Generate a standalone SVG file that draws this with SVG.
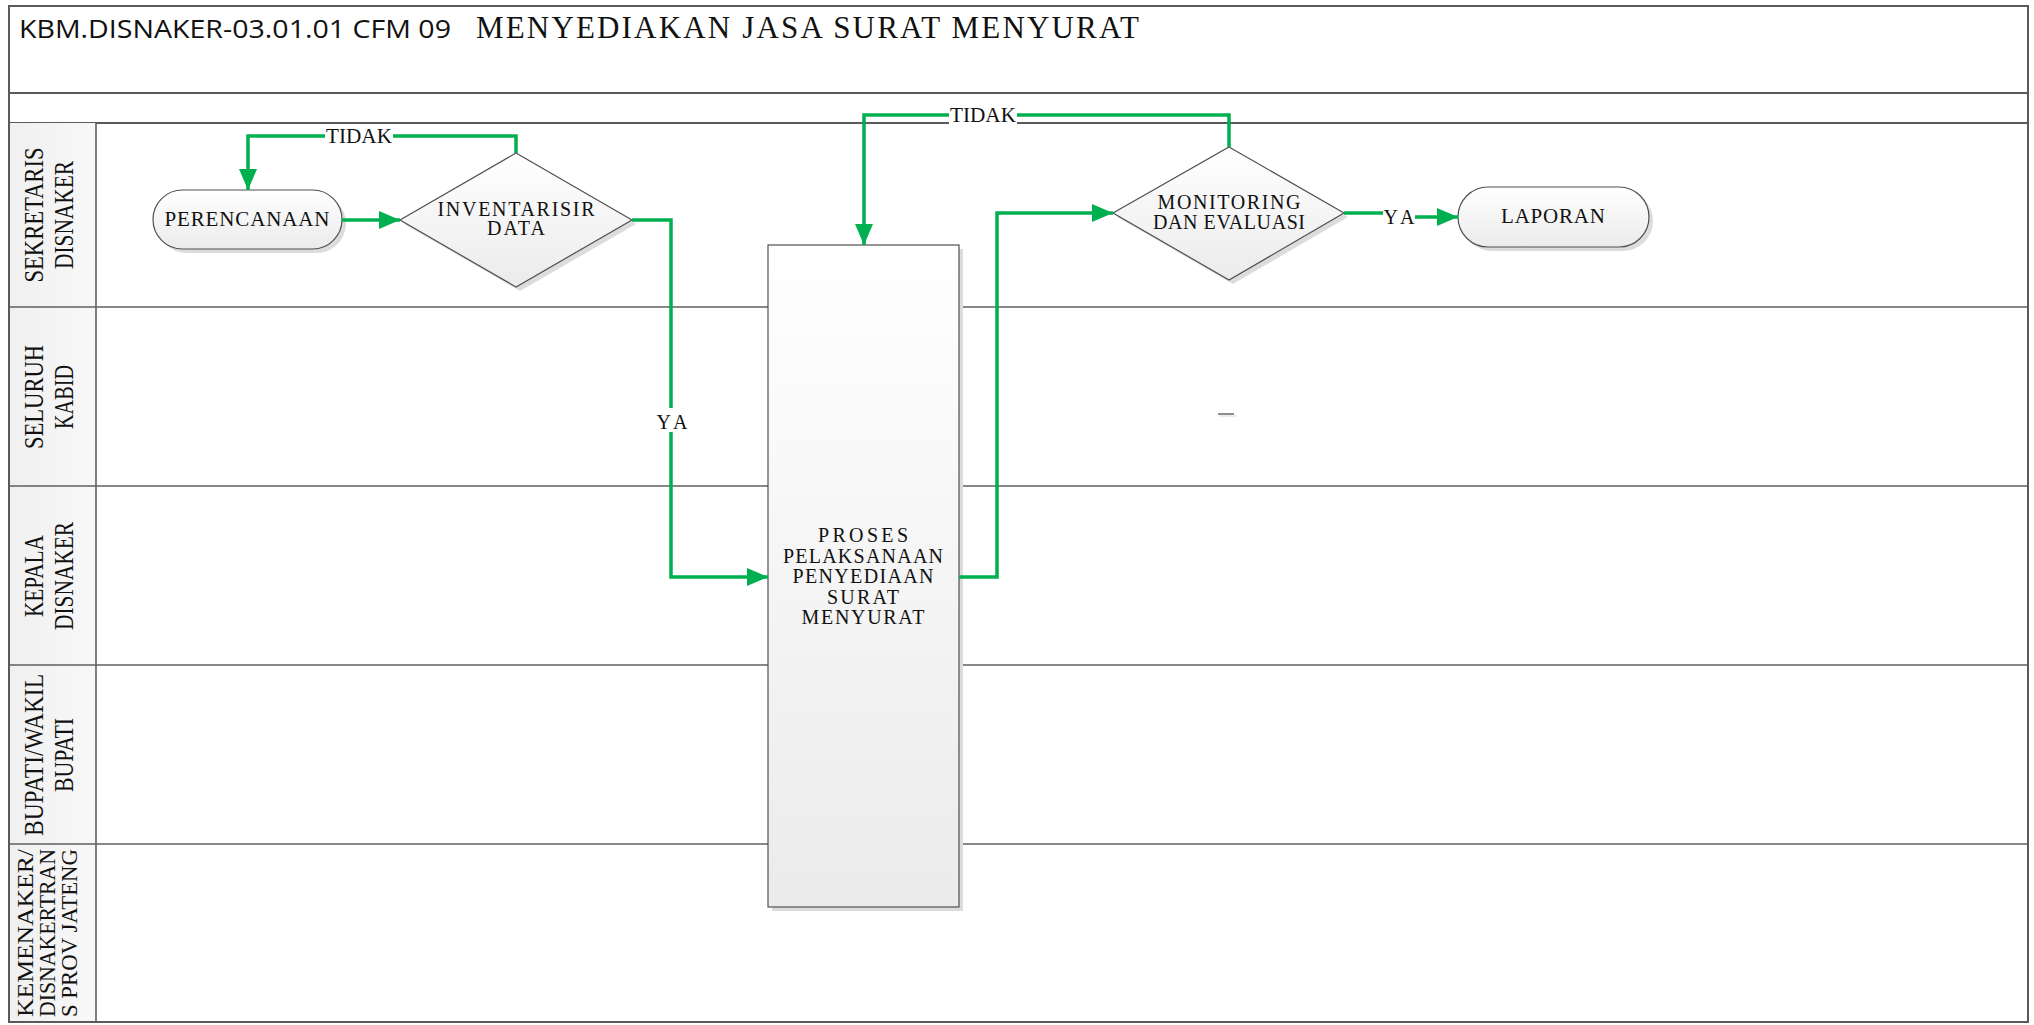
<svg xmlns="http://www.w3.org/2000/svg" width="2034" height="1025" viewBox="0 0 2034 1025">
<style>
.frame{fill:none;stroke:#5a5a5a;stroke-width:2}
.lane{stroke:#5f5f5f;stroke-width:1.6}
.node{fill:url(#ng);stroke:#505050;stroke-width:1.2}
.shadow{fill:#dcdcdc}
.conn{fill:none;stroke:#00b050;stroke-width:3.5;marker-end:url(#arr)}
.t{font-family:"Liberation Serif","DejaVu Serif",serif;fill:#111;text-anchor:middle}
.lbl{font-family:"Liberation Serif","DejaVu Serif",serif;fill:#111;text-anchor:middle;font-size:27px}
.lbl5{font-family:"Liberation Serif","DejaVu Serif",serif;fill:#111;text-anchor:middle;font-size:23px}
.bg{fill:#fff}
</style>
<defs>
<linearGradient id="hg" x1="0" y1="0" x2="0" y2="1"><stop offset="0" stop-color="#ffffff"/><stop offset="1" stop-color="#e8e8e8"/></linearGradient>
<linearGradient id="ng" x1="0" y1="0" x2="0" y2="1"><stop offset="0" stop-color="#ffffff"/><stop offset="1" stop-color="#ebebeb"/></linearGradient>
<linearGradient id="lg" x1="0" y1="0" x2="1" y2="0"><stop offset="0" stop-color="#f0f0f0"/><stop offset="1" stop-color="#f8f8f8"/></linearGradient>
<marker id="arr" markerUnits="userSpaceOnUse" markerWidth="22" markerHeight="18" refX="21" refY="9" orient="auto"><path d="M0,0 L21,9 L0,18 z" fill="#00b050"/></marker>
</defs>
<rect x="0" y="0" width="2034" height="1025" fill="#fff"/>
<g id="pool">
<rect x="9" y="6" width="2019" height="87" fill="url(#hg)" class="frame"/>
<rect x="9" y="93" width="2019" height="30" fill="url(#hg)" class="frame"/>
<rect x="9" y="123" width="87" height="899" fill="url(#lg)"/>
<line class="lane" x1="9" y1="307" x2="2028" y2="307"/>
<line class="lane" x1="9" y1="486" x2="2028" y2="486"/>
<line class="lane" x1="9" y1="665" x2="2028" y2="665"/>
<line class="lane" x1="9" y1="844" x2="2028" y2="844"/>
<line class="lane" x1="96" y1="123" x2="96" y2="1022"/>
<rect x="9" y="6" width="2019" height="1016" class="frame"/>
<text x="19" y="38" font-family="'Open Sans','Liberation Sans',sans-serif" font-size="25" fill="#111" textLength="432" lengthAdjust="spacingAndGlyphs">KBM.DISNAKER-03.01.01 CFM 09</text>
<text x="476" y="38" font-family="'Liberation Serif',serif" font-size="31" fill="#111" textLength="663">MENYEDIAKAN JASA SURAT MENYURAT</text>
</g>
<g id="lane-labels">
<g transform="translate(0,215)"><text class="lbl" transform="translate(43,0) rotate(-90)" textLength="135" lengthAdjust="spacingAndGlyphs">SEKRETARIS</text><text class="lbl" transform="translate(73,0) rotate(-90)" textLength="108" lengthAdjust="spacingAndGlyphs">DISNAKER</text></g>
<g transform="translate(0,397)"><text class="lbl" transform="translate(43,0) rotate(-90)" textLength="104" lengthAdjust="spacingAndGlyphs">SELURUH</text><text class="lbl" transform="translate(73,0) rotate(-90)" textLength="64" lengthAdjust="spacingAndGlyphs">KABID</text></g>
<g transform="translate(0,576)"><text class="lbl" transform="translate(43,0) rotate(-90)" textLength="82" lengthAdjust="spacingAndGlyphs">KEPALA</text><text class="lbl" transform="translate(73,0) rotate(-90)" textLength="108" lengthAdjust="spacingAndGlyphs">DISNAKER</text></g>
<g transform="translate(0,755)"><text class="lbl" transform="translate(43,0) rotate(-90)" textLength="162" lengthAdjust="spacingAndGlyphs">BUPATI/WAKIL</text><text class="lbl" transform="translate(73,0) rotate(-90)" textLength="74" lengthAdjust="spacingAndGlyphs">BUPATI</text></g>
<g transform="translate(0,933)"><text class="lbl5" transform="translate(33,0) rotate(-90)" textLength="168" lengthAdjust="spacingAndGlyphs">KEMENAKER/</text><text class="lbl5" transform="translate(55,0) rotate(-90)" textLength="168" lengthAdjust="spacingAndGlyphs">DISNAKERTRAN</text><text class="lbl5" transform="translate(77,0) rotate(-90)" textLength="168" lengthAdjust="spacingAndGlyphs">S PROV JATENG</text></g>
</g>
<g id="node-perencanaan">
<rect class="shadow" x="157" y="194" width="189" height="59" rx="29.5"/>
<rect class="node" x="153" y="190" width="189" height="59" rx="29.5"/>
<text class="t" x="247" y="226" font-size="21" textLength="165">PERENCANAAN</text>
</g>
<g id="node-inventarisir">
<polygon class="shadow" points="520,157 636,224 520,291 404,224"/>
<polygon class="node" points="516,153 632,220 516,287 400,220"/>
<text class="t" x="516" y="216" font-size="20" textLength="157">INVENTARISIR</text>
<text class="t" x="516" y="235" font-size="20" textLength="58">DATA</text>
</g>
<g id="node-proses">
<rect class="shadow" x="772" y="249" width="191" height="662"/>
<rect class="node" x="768" y="245" width="191" height="662"/>
<text class="t" x="863" y="542" font-size="20" textLength="90">PROSES</text>
<text class="t" x="863" y="563" font-size="20" textLength="160">PELAKSANAAN</text>
<text class="t" x="863" y="583" font-size="20" textLength="141">PENYEDIAAN</text>
<text class="t" x="863" y="604" font-size="20" textLength="72">SURAT</text>
<text class="t" x="863" y="624" font-size="20" textLength="123">MENYURAT</text>
</g>
<g id="node-monitoring">
<polygon class="shadow" points="1233,151 1348,217 1233,284 1117,217"/>
<polygon class="node" points="1229,147 1344,213 1229,280 1113,213"/>
<text class="t" x="1229" y="209" font-size="20" textLength="143">MONITORING</text>
<text class="t" x="1229" y="229" font-size="20" textLength="152">DAN EVALUASI</text>
</g>
<g id="node-laporan">
<rect class="shadow" x="1462" y="191" width="191" height="60" rx="30"/>
<rect class="node" x="1458" y="187" width="191" height="60" rx="30"/>
<text class="t" x="1553" y="223" font-size="21" textLength="104">LAPORAN</text>
</g>
<g id="mark">
<line x1="1219" y1="416" x2="1237" y2="416" stroke="#e6e6e6" stroke-width="1.5"/>
<line x1="1218" y1="414" x2="1234" y2="414" stroke="#6a6a6a" stroke-width="1.5"/>
</g>
<g id="connectors">
<path class="conn" d="M342,220 L400,220"/>
<path class="conn" d="M516,153 L516,136 L248,136 L248,190"/>
<rect class="bg" x="325" y="125" width="68" height="22"/>
<text class="t" x="359" y="143" font-size="20" textLength="66" lengthAdjust="spacingAndGlyphs">TIDAK</text>
<path class="conn" d="M632,220 L671,220 L671,577 L768,577"/>
<rect class="bg" x="655" y="408" width="34" height="24"/>
<text class="t" x="672" y="429" font-size="20" textLength="31">YA</text>
<path class="conn" d="M959,577 L997,577 L997,213 L1113,213"/>
<path class="conn" d="M1229,147 L1229,115 L864,115 L864,245"/>
<rect class="bg" x="949" y="104" width="68" height="22"/>
<text class="t" x="983" y="122" font-size="20" textLength="66" lengthAdjust="spacingAndGlyphs">TIDAK</text>
<path class="conn" d="M1344,213 L1398,213 L1398,217 L1458,217"/>
<rect class="bg" x="1383" y="204" width="32" height="24"/>
<text class="t" x="1399" y="224" font-size="20" textLength="31">YA</text>
</g>
</svg>
